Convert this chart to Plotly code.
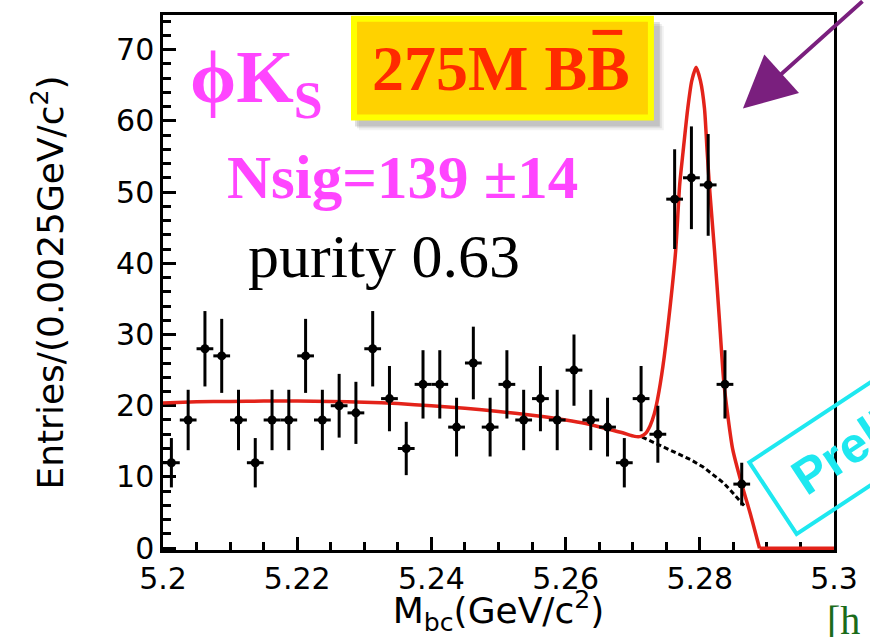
import numpy as np
import plotly.graph_objects as go

# ---- histogram: B -> phi K_S candidates in Mbc ----
BIN_LOW = 5.2
BIN_WIDTH = 0.0025
COUNTS = [12, 18, 28, 27, 18, 12, 18, 18, 27, 18,
          20, 19, 28, 21, 14, 23, 23, 17, 26, 17,
          23, 18, 21, 18, 25, 18, 17, 12, 21, 16,
          49, 52, 51, 23, 9]

# ---- total fit (signal + ARGUS background), up to the kinematic endpoint ----
FIT_X = [5.2000, 5.2050, 5.2100, 5.2150, 5.2200, 5.2250, 5.2300, 5.2350,
         5.2400, 5.2450, 5.2500, 5.2550, 5.2600, 5.2630, 5.2660, 5.2685,
         5.2703, 5.2712, 5.2719, 5.2726, 5.2732, 5.2737, 5.2745, 5.2754,
         5.2764, 5.2770, 5.2775, 5.2782, 5.2788, 5.27945, 5.2801, 5.2807,
         5.2811, 5.2815, 5.2822, 5.2829, 5.2836, 5.2849, 5.2863, 5.2876,
         5.2889]
FIT_Y = [20.4, 20.55, 20.6, 20.65, 20.65, 20.6, 20.5, 20.3,
         20.0, 19.65, 19.2, 18.65, 18.0, 17.5, 16.8, 16.2,
         15.7, 15.7, 16.1, 17.2, 18.8, 20.9, 25.5, 32.4,
         41.7, 51.0, 55.6, 61.7, 65.6, 67.5, 65.6, 61.7,
         55.6, 50.0, 41.7, 32.4, 23.1, 13.9, 8.8, 4.6,
         0.0]
# beyond the endpoint the fit is identically zero
TAIL_X = [5.2889, 5.3000]
TAIL_Y = [0.0, 0.0]

# ---- background component alone (shown dotted under the peak) ----
BKG_X = [5.2714, 5.2735, 5.2753, 5.2772, 5.2787, 5.2805, 5.2822, 5.2835,
         5.2846, 5.2856, 5.2866]
BKG_Y = [15.6, 14.7, 13.9, 13.1, 12.4, 11.4, 10.2, 9.2, 8.1, 7.1, 6.0]

X_TICKS = [5.2, 5.22, 5.24, 5.26, 5.28, 5.3]
X_TICK_TEXT = ["5.2", "5.22", "5.24", "5.26", "5.28", "5.3"]
Y_TICKS = [0, 10, 20, 30, 40, 50, 60, 70]

counts = np.array(COUNTS, dtype=float)
centers = BIN_LOW + BIN_WIDTH * (np.arange(len(counts)) + 0.5)
errors = np.sqrt(counts)

# page geometry (pixels) used to place decorations
W, H = 870, 637
ML, MR, MT, MB = 163, 29, 12, 87
PW, PH = W - ML - MR, H - MT - MB


def px(xp):
    return (xp - ML) / PW


def py(yp):
    return (H - MB - yp) / PH


AX_FONT = "DejaVu Sans"
SERIF = "Liberation Serif, Times New Roman, DejaVu Serif, serif"
MAGENTA = "#ff45ff"
RED = "#e3231a"
CYAN = "#1ee8f0"

fig = go.Figure()

fig.add_trace(go.Scatter(
    x=BKG_X, y=BKG_Y, mode="lines",
    line=dict(color="black", width=3, dash="5px,3px"),
    hoverinfo="skip", showlegend=False))

fig.add_trace(go.Scatter(
    x=FIT_X, y=FIT_Y, mode="lines",
    line=dict(color=RED, width=3.5, shape="spline", smoothing=0.6),
    hoverinfo="skip", showlegend=False))

fig.add_trace(go.Scatter(
    x=TAIL_X, y=TAIL_Y, mode="lines",
    line=dict(color=RED, width=3.5),
    hoverinfo="skip", showlegend=False))

fig.add_trace(go.Scatter(
    x=centers, y=counts, mode="markers",
    marker=dict(color="black", size=9, symbol="circle"),
    error_y=dict(type="data", array=errors, color="black", thickness=3, width=0),
    error_x=dict(type="data", array=[BIN_WIDTH / 2] * len(counts),
                 color="black", thickness=3, width=0),
    showlegend=False))

# "275M BB-bar" badge: soft shadow, gold fill with yellow rim, overline
shapes = []
for off, alpha in [(10, 0.05), (8, 0.08), (6, 0.12)]:
    shapes.append(dict(type="rect", xref="paper", yref="paper",
                       x0=px(353 + off - 2), x1=px(659 + off),
                       y0=py(118 + off), y1=py(13 + off),
                       line=dict(width=0), fillcolor=f"rgba(0,0,0,{alpha})",
                       layer="above"))
shapes.append(dict(type="rect", xref="paper", yref="paper",
                   x0=px(356), x1=px(656), y0=py(115), y1=py(15.7),
                   line=dict(color="#ffff00", width=6), fillcolor="#ffd200",
                   layer="above"))
shapes.append(dict(type="line", xref="paper", yref="paper",
                   x0=px(597), x1=px(627), y0=py(29.5), y1=py(29.5),
                   line=dict(color="#ff2a00", width=5), layer="above"))

annotations = [
    dict(text="<b>ϕK<sub>S</sub></b>", x=px(257), y=py(80),
         font=dict(family=SERIF, size=74, color=MAGENTA)),
    dict(text="<b>Nsig=139 ±14</b>", x=px(405), y=py(175),
         font=dict(family=SERIF, size=61, color=MAGENTA)),
    dict(text="purity 0.63", x=px(386), y=py(254),
         font=dict(family=SERIF, size=62, color="black")),
    dict(text="<b>275M BB</b>", x=px(505), y=py(66),
         font=dict(family=SERIF, size=64, color="#ff2a00")),
    dict(text="", x=px(749), y=py(106), ax=121, ay=-112,
         showarrow=True, arrowhead=2, arrowsize=2.6, arrowwidth=4,
         arrowcolor="#7a1f7e"),
    dict(text="<b>\u00a0Preliminary</b>", x=px(913), y=py(410.5),
         textangle=-33.4,
         font=dict(family="Liberation Sans, Arial, sans-serif", size=50,
                   color=CYAN),
         bordercolor=CYAN, borderwidth=4, borderpad=13),
    dict(text="[h", x=px(832), y=py(621), xanchor="left",
         font=dict(family=SERIF, size=40, color="#1a6b1a")),
]
for a in annotations:
    a.setdefault("xref", "paper")
    a.setdefault("yref", "paper")
    a.setdefault("showarrow", False)
    a.setdefault("xanchor", "center")
    a.setdefault("yanchor", "middle")

axis_common = dict(
    showline=True, linecolor="black", linewidth=2.5, mirror=True,
    showgrid=False, zeroline=False,
    ticks="inside", ticklen=13, tickwidth=2.5, tickcolor="black",
    tickfont=dict(family=AX_FONT, size=30, color="black"),
    layer="below traces",
)

fig.update_layout(
    width=W, height=H,
    margin=dict(l=ML, r=MR, t=MT, b=MB, pad=0),
    paper_bgcolor="white", plot_bgcolor="white",
    xaxis=dict(
        range=[5.2, 5.3], tickvals=X_TICKS, ticktext=X_TICK_TEXT,
        minor=dict(dtick=0.005, ticks="inside", ticklen=8, tickwidth=2.5,
                   tickcolor="black"),
        title=dict(text="M<sub>bc</sub>(GeV/c<sup>2</sup>)",
                   font=dict(family=AX_FONT, size=36, color="black"),
                   standoff=3),
        **axis_common),
    yaxis=dict(
        range=[-0.25, 74.85], tickvals=Y_TICKS,
        minor=dict(dtick=2, ticks="inside", ticklen=8, tickwidth=2.5,
                   tickcolor="black"),
        title=dict(text="Entries/(0.0025GeV/c<sup>2</sup>)",
                   font=dict(family=AX_FONT, size=36, color="black"),
                   standoff=42),
        **axis_common),
    shapes=shapes,
    annotations=annotations,
)

fig.write_html("out.html")
